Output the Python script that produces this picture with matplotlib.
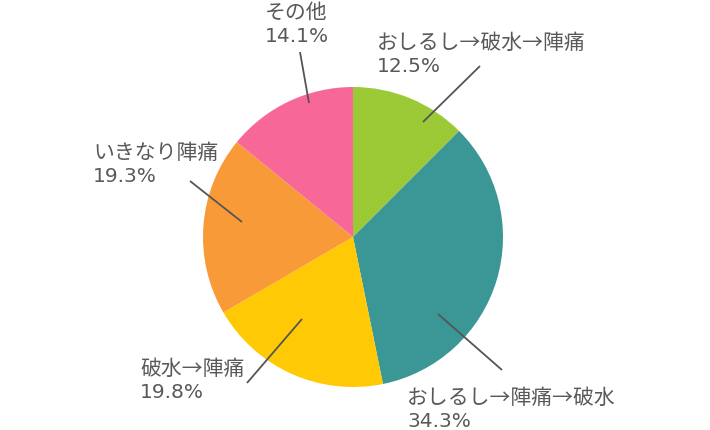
import matplotlib
matplotlib.use("Agg")
import matplotlib.pyplot as plt

# ---- data ----
categories = ["おしるし→破水→陣痛", "おしるし→陣痛→破水", "破水→陣痛", "いきなり陣痛", "その他"]
values = [12.5, 34.3, 19.8, 19.3, 14.1]
colors = ["#9BCA36", "#3A9795", "#FFCA05", "#F99A38", "#F76898"]

# ---- layout (pixel coords, y downwards) ----
W, H = 710, 430
center_px = (353, 237)
radius_px = 150
# label: (left x, baseline of first line)
label_pos = [(377, 49), (407, 404), (140, 375), (93, 159), (265, 19)]
line_gap = 23
# leader lines: (inner x, inner y, outer x, outer y)
leaders = [(423, 122, 480, 66), (438, 314, 502, 370), (302, 319, 247, 383),
           (242, 222, 190, 181), (309, 103, 300, 52)]

plt.rcParams['font.family'] = ['Noto Sans CJK JP', 'DejaVu Sans']
text_color = "#595959"

fig = plt.figure(figsize=(W / 100, H / 100), dpi=100)
ax = fig.add_axes([0, 0, 1, 1])

def Y(y):
    return H - y

ax.pie(values, colors=colors, startangle=90, counterclock=False,
       center=(center_px[0], Y(center_px[1])), radius=radius_px,
       wedgeprops=dict(linewidth=0), frame=True)
ax.set_xlim(0, W)
ax.set_ylim(0, H)
ax.set_aspect('equal')
ax.axis('off')

for cat, v, (lx, ly), (x1, y1, x2, y2) in zip(categories, values, label_pos, leaders):
    ax.plot([x1, x2], [Y(y1), Y(y2)], color="#555555", lw=1.3, solid_capstyle='butt')
    ax.text(lx, Y(ly), cat, fontsize=15, color=text_color, ha='left', va='baseline')
    ax.text(lx, Y(ly + line_gap), f"{v}%", fontsize=14.5, color=text_color,
            family=['DejaVu Sans'], ha='left', va='baseline')

fig.savefig("out.png", dpi=100)
